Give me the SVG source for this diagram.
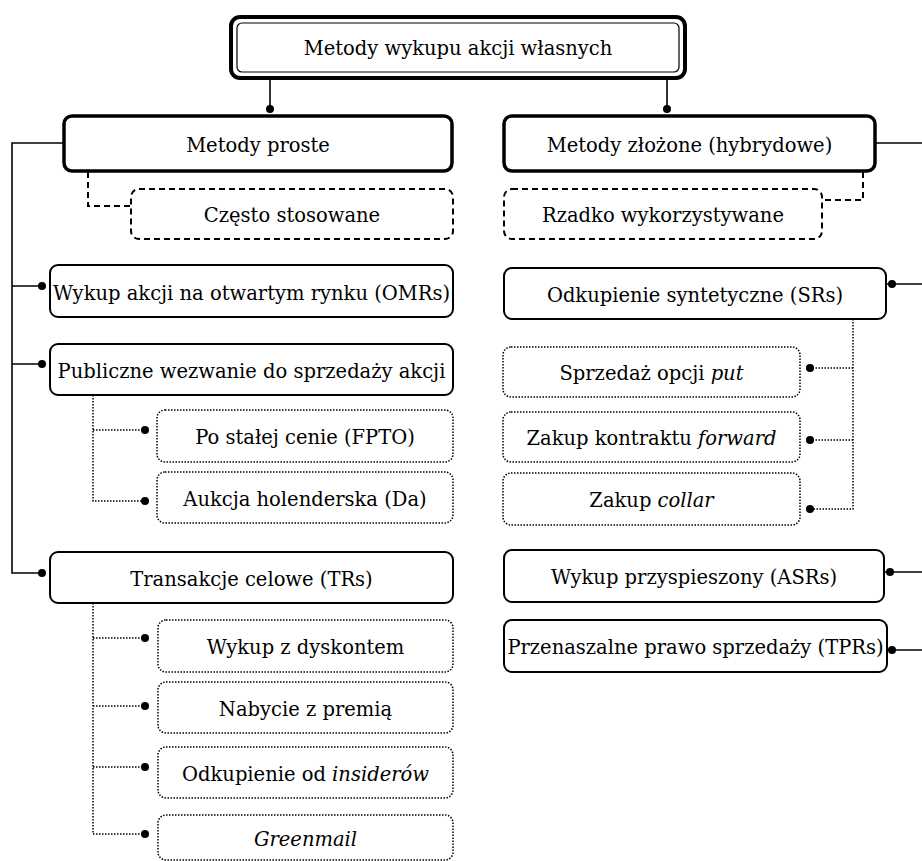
<svg xmlns="http://www.w3.org/2000/svg" width="922" height="861" viewBox="0 0 922 861">
<defs>
<style>
text{font-family:'DejaVu Serif',serif;font-size:19.5px;fill:#000;text-anchor:middle}
.it{font-style:italic}
.box{fill:#fff;stroke:#000;stroke-width:2}
.thick{fill:#fff;stroke:#000;stroke-width:3.5}
.dash{fill:#fff;stroke:#000;stroke-width:2;stroke-dasharray:6 4}
.dot{fill:#fff;stroke:#000;stroke-width:1.5;stroke-dasharray:1.5 1.5}
.ln{fill:none;stroke:#000;stroke-width:1.6}
.dl{fill:none;stroke:#000;stroke-width:2;stroke-dasharray:6 4}
.ol{fill:none;stroke:#000;stroke-width:1.5;stroke-dasharray:1.5 1.5}
.pt{fill:#000}
</style>
</defs>
<rect width="922" height="861" fill="#fff"/>
<g id="connectors">
<path class="ln" d="M270 80V109M667 80V109"/>
<path class="ln" d="M64 143H12V573H42M12 286H42M12 364H42"/>
<path class="ln" d="M875 143H922M886 284H922M884 572H922M887 650H922"/>
<path class="dl" d="M88 172V206H131M863 172V200H822"/>
<path class="ol" d="M93 395V501H145M93 430H145"/>
<path class="ol" d="M93 603V834H145M93 638H145M93 706H145M93 767H145"/>
<path class="ol" d="M853 319V509H810M853 368H810M853 440H810"/>
<g class="pt">
<circle cx="270" cy="109" r="4"/><circle cx="667" cy="109" r="4"/>
<circle cx="42" cy="286" r="4"/><circle cx="42" cy="364" r="4"/><circle cx="42" cy="573" r="4"/>
<circle cx="145" cy="430" r="4"/><circle cx="145" cy="501" r="4"/>
<circle cx="145" cy="638" r="4"/><circle cx="145" cy="706" r="4"/><circle cx="145" cy="767" r="4"/><circle cx="145" cy="834" r="4"/>
<circle cx="892" cy="284" r="4"/><circle cx="890" cy="572" r="4"/><circle cx="892" cy="650" r="4"/>
<circle cx="810" cy="368" r="4"/><circle cx="810" cy="440" r="4"/><circle cx="810" cy="509" r="4"/>
</g>
</g>
<g id="root">
<rect x="231" y="17" width="454" height="61" rx="9" fill="#fff" stroke="#000" stroke-width="4"/>
<rect x="237" y="23" width="442" height="49" rx="5" fill="none" stroke="#000" stroke-width="1.2"/>
<text x="458" y="55">Metody wykupu akcji własnych</text>
</g>
<g id="proste"><rect class="thick" x="64" y="116" width="388" height="55" rx="8"/><text x="258" y="152">Metody proste</text></g>
<g id="czesto"><rect class="dash" x="131" y="189" width="322" height="50" rx="8"/><text x="292" y="222">Często stosowane</text></g>
<g id="zlozone"><rect class="thick" x="504" y="116" width="371" height="55" rx="8"/><text x="689.5" y="152">Metody złożone (hybrydowe)</text></g>
<g id="rzadko"><rect class="dash" x="504" y="189" width="318" height="50" rx="8"/><text x="663" y="222">Rzadko wykorzystywane</text></g>
<g id="omr"><rect class="box" x="50" y="265" width="403" height="52" rx="8"/><text x="251.5" y="300">Wykup akcji na otwartym rynku (OMRs)</text></g>
<g id="publiczne"><rect class="box" x="50" y="344" width="403" height="51" rx="8"/><text x="251.5" y="378">Publiczne wezwanie do sprzedaży akcji</text></g>
<g id="fpto"><rect class="dot" x="157" y="410" width="296" height="52" rx="8"/><text x="305" y="444">Po stałej cenie (FPTO)</text></g>
<g id="da"><rect class="dot" x="157" y="472" width="296" height="51" rx="8"/><text x="305" y="506">Aukcja holenderska (Da)</text></g>
<g id="trs"><rect class="box" x="50" y="552" width="403" height="51" rx="8"/><text x="251.5" y="586">Transakcje celowe (TRs)</text></g>
<g id="dyskont"><rect class="dot" x="158" y="620" width="295" height="52" rx="8"/><text x="305.5" y="654">Wykup z dyskontem</text></g>
<g id="premia"><rect class="dot" x="158" y="682" width="295" height="51" rx="8"/><text x="305.5" y="716">Nabycie z premią</text></g>
<g id="insider"><rect class="dot" x="158" y="747" width="295" height="51" rx="8"/><text x="305.5" y="781">Odkupienie od <tspan class="it">insiderów</tspan></text></g>
<g id="greenmail"><rect class="dot" x="158" y="815" width="295" height="45" rx="8"/><text x="305.5" y="846" class="it">Greenmail</text></g>
<g id="srs"><rect class="box" x="504" y="268" width="382" height="51" rx="8"/><text x="695" y="302">Odkupienie syntetyczne (SRs)</text></g>
<g id="put"><rect class="dot" x="503" y="347" width="297" height="50" rx="8"/><text x="651.5" y="380">Sprzedaż opcji <tspan class="it">put</tspan></text></g>
<g id="forward"><rect class="dot" x="503" y="412" width="297" height="50" rx="8"/><text x="651.5" y="445">Zakup kontraktu <tspan class="it">forward</tspan></text></g>
<g id="collar"><rect class="dot" x="503" y="473" width="297" height="52" rx="8"/><text x="651.5" y="507">Zakup <tspan class="it">collar</tspan></text></g>
<g id="asr"><rect class="box" x="504" y="550" width="380" height="52" rx="8"/><text x="694" y="584">Wykup przyspieszony (ASRs)</text></g>
<g id="tpr"><rect class="box" x="504" y="620" width="383" height="52" rx="8"/><text x="695.5" y="654">Przenaszalne prawo sprzedaży (TPRs)</text></g>
</svg>
